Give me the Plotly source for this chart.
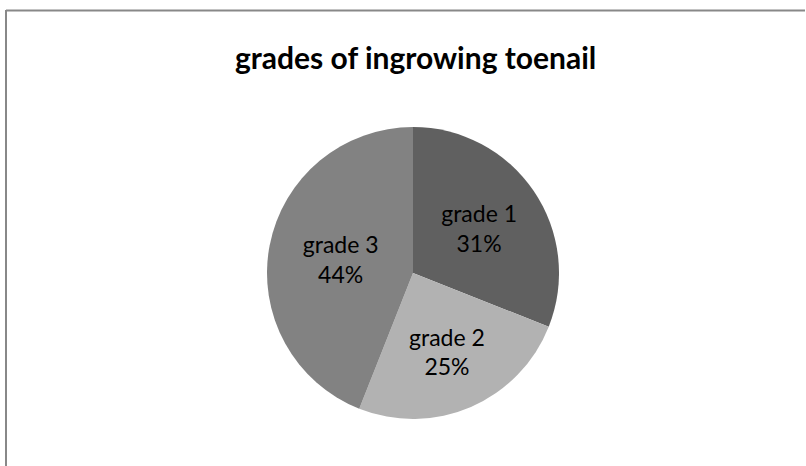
import plotly.graph_objects as go

categories = ["grade 1", "grade 2", "grade 3"]
values = [31, 25, 44]
colors = ["#606060", "#b2b2b2", "#828282"]
title_text = "grades of ingrowing toenail"

W, H = 806, 466
fig = go.Figure()
fig.add_trace(go.Pie(
    labels=categories,
    values=values,
    sort=False,
    direction="clockwise",
    rotation=0,
    marker=dict(colors=colors, line=dict(width=0)),
    textinfo="label+percent",
    texttemplate="%{label}<br>%{percent:.0%}",
    textposition="inside",
    insidetextorientation="horizontal",
    textfont=dict(family="Lato, Open Sans, sans-serif", size=23, color="#000000"),
    showlegend=False,
    hoverinfo="skip",
    domain=dict(x=[267/W, 559/W], y=[1-419/H, 1-127/H]),
))

fig.update_layout(
    width=W, height=H,
    margin=dict(l=0, r=0, t=0, b=0),
    paper_bgcolor="white",
    plot_bgcolor="white",
    annotations=[dict(
        text="<b>" + title_text + "</b>",
        x=415/W, y=1-57/H, xref="paper", yref="paper",
        xanchor="center", yanchor="middle", showarrow=False,
        font=dict(family="Lato, Open Sans, sans-serif", size=30, color="#000000"),
    )],
    shapes=[
        dict(type="line", xref="paper", yref="paper",
             x0=6/W, x1=805/W, y0=1-10.5/H, y1=1-10.5/H,
             line=dict(color="#888888", width=2)),
        dict(type="line", xref="paper", yref="paper",
             x0=6/W, x1=6/W, y0=1-10/H, y1=0,
             line=dict(color="#888888", width=2)),
    ],
)

fig.write_html("out.html",
               config={"displayModeBar": False},
               post_script="document.body.style.margin='0px';document.body.style.overflow='hidden';")
